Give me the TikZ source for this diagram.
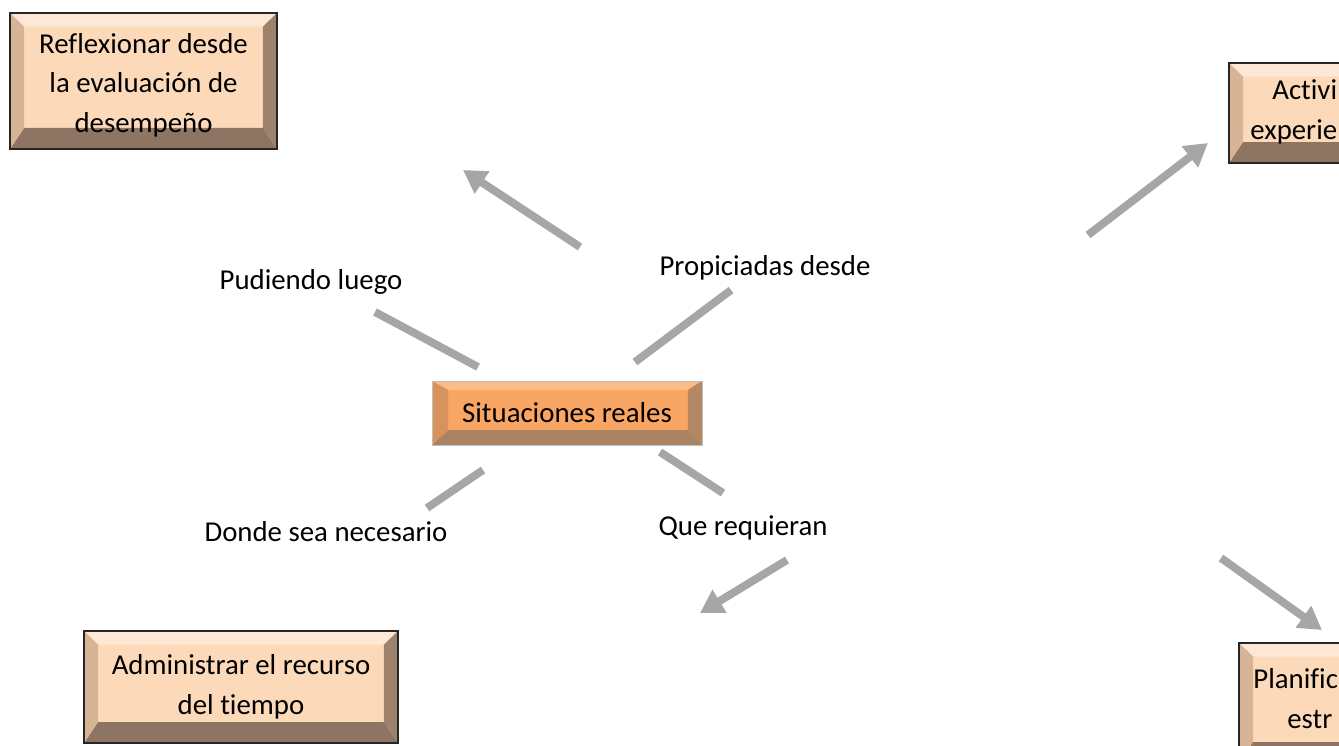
\documentclass[tikz,border=0pt]{standalone}
\usepackage{fontspec}
\setmainfont{Carlito}[Ligatures={NoCommon}]
\usetikzlibrary{arrows.meta}
\definecolor{peachface}{HTML}{FCDAB9}
\definecolor{peachT}{HTML}{FDE8D6}
\definecolor{peachL}{HTML}{D8B497}
\definecolor{peachR}{HTML}{9E826C}
\definecolor{peachB}{HTML}{8D7463}
\definecolor{orangeface}{HTML}{F9A563}
\definecolor{orangeT}{HTML}{FBBD88}
\definecolor{orangeL}{HTML}{D8935C}
\definecolor{orangeR}{HTML}{B48862}
\definecolor{orangeB}{HTML}{AA8462}
\definecolor{arrowgray}{HTML}{A6A6A6}
\begin{document}
\begin{tikzpicture}[x=0.02cm,y=-0.02cm,
  every node/.style={font=\fontsize{16.4}{22.6}\selectfont, text=black, inner sep=0pt},
  bevel/.style n args={4}{path picture={
    \coordinate (NW) at (path picture bounding box.north west);
    \coordinate (NE) at (path picture bounding box.north east);
    \coordinate (SW) at (path picture bounding box.south west);
    \coordinate (SE) at (path picture bounding box.south east);
    \fill[bvT] (NW) -- (NE) -- ([shift={(-#3,-#2)}]NE) -- ([shift={(#1,-#2)}]NW) -- cycle;
    \fill[bvB] (SW) -- (SE) -- ([shift={(-#3,#4)}]SE) -- ([shift={(#1,#4)}]SW) -- cycle;
    \fill[bvL] (NW) -- (SW) -- ([shift={(#1,#4)}]SW) -- ([shift={(#1,-#2)}]NW) -- cycle;
    \fill[bvR] (NE) -- (SE) -- ([shift={(-#3,#4)}]SE) -- ([shift={(-#3,-#2)}]NE) -- cycle;
  }},
  peachbox/.style={fill=peachface, draw=black!85, line width=1.1pt, align=center,
    /utils/exec={\colorlet{bvT}{peachT}\colorlet{bvL}{peachL}\colorlet{bvR}{peachR}\colorlet{bvB}{peachB}},
    bevel={0.28cm}{0.27cm}{0.28cm}{0.42cm}},
  orangebox/.style={fill=orangeface, draw=black!25, line width=0.4pt, align=center,
    /utils/exec={\colorlet{bvT}{orangeT}\colorlet{bvL}{orangeL}\colorlet{bvR}{orangeR}\colorlet{bvB}{orangeB}},
    bevel={0.32cm}{0.18cm}{0.28cm}{0.3cm}},
  conn/.style={draw=arrowgray, line width=4.5pt},
  arr/.style={conn, -{Triangle[length=13pt,width=14.5pt]}},
  lbl/.style={align=center}
]
\clip (0,0) rectangle (1339,745);
\useasboundingbox (0,0) rectangle (1339,745);

% boxes
\node[peachbox, minimum width=5.34cm, minimum height=2.72cm] (refl) at (143.5,81)
  {\rule{0pt}{16pt}Reflexionar desde\\la evaluación de\\desempeño};
\node[peachbox, minimum width=6.28cm, minimum height=2.24cm] (admin) at (241,687)
  {Administrar el recurso\\del tiempo};
\node[peachbox, minimum width=5.2cm, minimum height=2.0cm] (activ) at (1359,113) {};
\node[peachbox, minimum width=5.2cm, minimum height=2.4cm] (planif) at (1369,703) {};
\node[orangebox, minimum width=5.4cm, minimum height=1.28cm] (sit) at (567,413)
  {Situaciones reales};

% partial texts of the cut boxes
\node[anchor=base west] (activt1) at (1272,99) {Activi};
\node[anchor=base west] (activt2) at (1250,139) {experie};
\node[anchor=base west] (planift1) at (1253,688) {Planific};
\node[anchor=base west] (planift2) at (1287,728) {estr};

% labels
\node[lbl] (lpud) at (311,282) {Pudiendo luego};
\node[lbl] (lprop) at (765,268) {Propiciadas desde};
\node[lbl] (ldonde) at (326,532) {Donde sea necesario};
\node[lbl] (lque) at (743,528) {Que requieran};

% connector end points
\coordinate (c1a) at (375,312); \coordinate (c1b) at (478,367);
\coordinate (c2a) at (635,362); \coordinate (c2b) at (731,290);
\coordinate (c3a) at (483,470); \coordinate (c3b) at (427,508);
\coordinate (c4a) at (660,452); \coordinate (c4b) at (723,493);
\coordinate (a1a) at (580,247); \coordinate (a1b) at (463,170);
\coordinate (a2a) at (1088,235); \coordinate (a2b) at (1208,143);
\coordinate (a3a) at (787,560); \coordinate (a3b) at (700,613);
\coordinate (a4a) at (1221,558); \coordinate (a4b) at (1322,630);

\draw[conn] (c1a) -- (c1b);
\draw[conn] (c2a) -- (c2b);
\draw[conn] (c3a) -- (c3b);
\draw[conn] (c4a) -- (c4b);
\draw[arr] (a1a) -- (a1b);
\draw[arr] (a2a) -- (a2b);
\draw[arr] (a3a) -- (a3b);
\draw[arr] (a4a) -- (a4b);
\end{tikzpicture}
\end{document}
